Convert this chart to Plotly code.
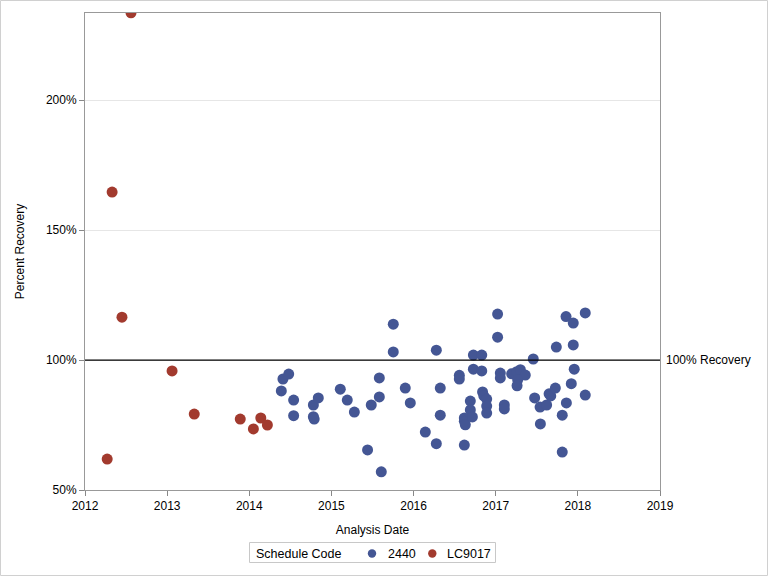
import plotly.graph_objects as go

# Schedule code 2440 (blue)
x_2440 = [2014.39, 2014.41, 2014.48, 2014.54, 2014.54, 2014.78, 2014.78, 2014.79, 2014.84,
          2015.108, 2015.193, 2015.279, 2015.44, 2015.485, 2015.583, 2015.583, 2015.607,
          2015.753, 2015.753, 2015.899, 2015.96, 2016.143, 2016.277, 2016.277, 2016.325,
          2016.325, 2016.557, 2016.557, 2016.618, 2016.618, 2016.63, 2016.618, 2016.691,
          2016.691, 2016.716, 2016.728, 2016.728, 2016.83, 2016.83, 2016.84, 2016.855,
          2016.89, 2016.89, 2016.89, 2017.023, 2017.023, 2017.056, 2017.056, 2017.105,
          2017.105, 2017.194, 2017.255, 2017.30, 2017.36, 2017.267, 2017.26, 2017.457,
          2017.474, 2017.54, 2017.544, 2017.62, 2017.65, 2017.67, 2017.726, 2017.738,
          2017.81, 2017.81, 2017.856, 2017.86, 2017.92, 2017.944, 2017.944, 2017.956,
          2018.09, 2018.09]
y_2440 = [88.1, 92.7, 94.6, 84.6, 78.6, 82.7, 78.2, 77.3, 85.4,
          88.8, 84.6, 80.0, 65.4, 82.7, 93.1, 85.8, 57.0,
          113.8, 103.1, 89.2, 83.5, 72.3, 103.8, 67.8, 89.2,
          78.8, 94.1, 92.7, 77.7, 76.4, 75.1, 67.3, 84.2,
          80.8, 78.1, 101.9, 96.5, 101.9, 95.8, 87.7, 86.2,
          85.0, 82.3, 79.6, 117.7, 108.8, 95.0, 93.1, 82.7,
          81.2, 94.7, 95.5, 96.3, 94.2, 92.4, 90.1, 100.4,
          85.4, 81.9, 75.4, 82.7, 87.0, 86.2, 89.2, 105.0,
          78.8, 64.6, 116.7, 83.5, 90.9, 114.2, 105.8, 96.5,
          118.1, 86.5]

# Schedule code LC9017 (red)
x_lc9017 = [2012.27, 2012.33, 2012.45, 2012.56, 2013.06, 2013.33, 2013.89, 2014.05, 2014.14, 2014.22]
y_lc9017 = [61.9, 164.6, 116.5, 233.6, 95.8, 79.2, 77.3, 73.5, 77.7, 75.0]

x_ticks = [2012, 2013, 2014, 2015, 2016, 2017, 2018, 2019]
y_ticks = [50, 100, 150, 200]
y_tick_labels = ["50%", "100%", "150%", "200%"]
ref_value = 100
ref_label = "100% Recovery"
legend_title = "Schedule Code"
series_names = ["2440", "LC9017"]

FONT = "Liberation Sans, Arial, sans-serif"
BLUE = "#445694"
RED = "#A23A2E"
COLORS = [BLUE, RED]

fig = go.Figure()
fig.add_trace(go.Scatter(x=x_2440, y=y_2440, mode="markers", name=series_names[0],
                         marker=dict(color=BLUE, size=11, line=dict(width=0))))
fig.add_trace(go.Scatter(x=x_lc9017, y=y_lc9017, mode="markers", name=series_names[1],
                         marker=dict(color=RED, size=11, line=dict(width=0))))

fig.add_hline(y=ref_value, line=dict(color="black", width=1.3), layer="above")
fig.add_annotation(x=1, xref="paper", y=ref_value, yref="y", text=ref_label,
                   showarrow=False, xanchor="left", xshift=4,
                   font=dict(family=FONT, size=12, color="black"))

W, H = 768, 576
L, R, T, B = 85, 108, 13, 86
PW, PH = W - L - R, H - T - B


def px(xp):
    return (xp - L) / PW


def py(yp):
    return (H - B - yp) / PH


# outer border
fig.add_shape(type="rect", xref="paper", yref="paper",
              x0=px(0.5), x1=px(767.5), y0=py(575.5), y1=py(0.5),
              line=dict(color="#d0d0d0", width=1))

# legend (drawn manually to match compact layout)
LEG_Y = 553.5
fig.add_shape(type="rect", xref="paper", yref="paper",
              x0=px(249.5), x1=px(495.5), y0=py(562.5), y1=py(542.5),
              line=dict(color="#c8c8c8", width=1))
fig.add_annotation(x=px(255), xref="paper", y=py(LEG_Y), yref="paper", text=legend_title,
                   showarrow=False, xanchor="left", yanchor="middle", xshift=-1,
                   font=dict(family=FONT, size=12.5, color="black"))
sym_x = [372, 432.3]
txt_x = [386.5, 446]
for name, col, sx, tx in zip(series_names, COLORS, sym_x, txt_x):
    fig.add_shape(type="circle", xref="paper", yref="paper",
                  x0=px(sx - 4.2), x1=px(sx + 4.2), y0=py(LEG_Y + 4.2), y1=py(LEG_Y - 4.2),
                  fillcolor=col, line=dict(width=0))
    fig.add_annotation(x=px(tx), xref="paper", y=py(LEG_Y), yref="paper", text=name,
                       showarrow=False, xanchor="left", yanchor="middle", xshift=-1,
                       font=dict(family=FONT, size=12.5, color="black"))

fig.update_layout(
    width=W, height=H,
    margin=dict(l=L, r=R, t=T, b=B, autoexpand=False),
    paper_bgcolor="white", plot_bgcolor="white",
    font=dict(family=FONT, size=12, color="black"),
    showlegend=False,
    xaxis=dict(range=[2012, 2019], tickvals=x_ticks, ticktext=[str(t) for t in x_ticks],
               ticks="outside", ticklen=5, tickcolor="#888", showgrid=False,
               showline=True, linecolor="#999", mirror=True, zeroline=False,
               automargin=False,
               title=dict(text="Analysis Date", font=dict(size=12), standoff=13),
               tickfont=dict(size=12)),
    yaxis=dict(range=[50, 233.5], tickvals=y_ticks, ticktext=y_tick_labels,
               ticks="outside", ticklen=5, tickcolor="#888", showgrid=True,
               gridcolor="#e6e6e6", showline=True, linecolor="#999", mirror=True,
               zeroline=False, automargin=False,
               title=dict(text="Percent Recovery", font=dict(size=12), standoff=18),
               tickfont=dict(size=12)),
)

fig.write_html("out.html", config={"displayModeBar": False},
               post_script="document.body.style.margin='0';document.body.style.overflow='hidden';")
